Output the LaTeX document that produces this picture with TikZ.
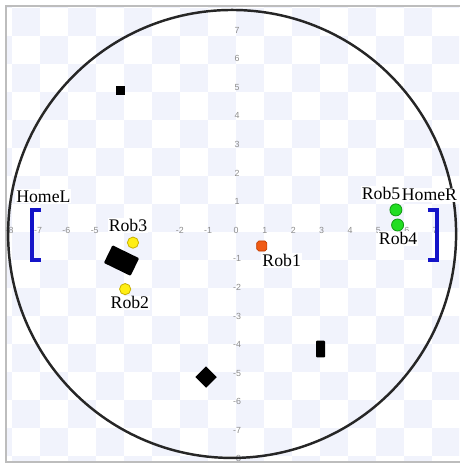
\documentclass[tikz,border=0pt]{standalone}
\usepackage{fontspec}
\usepackage{tikz}
\setmainfont{Liberation Serif}
\newfontfamily\axisfont{Liberation Sans}
\definecolor{ccChecker}{HTML}{F1F3FC}
\definecolor{ccFrame}{HTML}{BDBDBD}
\definecolor{ccHome}{HTML}{1414C8}
\definecolor{ccYellow}{HTML}{FFEE14}
\definecolor{ccYellowD}{HTML}{C8B000}
\definecolor{ccGreen}{HTML}{22DD22}
\definecolor{ccGreenD}{HTML}{119911}
\definecolor{ccOrange}{HTML}{F05A14}
\definecolor{ccOrangeD}{HTML}{C03C00}

\begin{document}
\begin{tikzpicture}[x=1cm,y=1cm]
    \tikzstyle{tick}=[text=black!45, font=\axisfont\fontsize{9}{9}\selectfont, inner sep=0pt]
    \tikzstyle{robname}=[font=\fontsize{18}{18}\selectfont, fill=white, inner sep=1pt, anchor=base]
    \tikzstyle{robyellow}=[circle, fill=ccYellow, draw=ccYellowD, line width=0.8pt, minimum size=0.4cm, inner sep=0pt]
    \tikzstyle{robgreen}=[circle, fill=ccGreen, draw=ccGreenD, line width=0.8pt, minimum size=0.43cm, inner sep=0pt]
    \tikzstyle{obstacle}=[fill=black, inner sep=0pt]
    \tikzstyle{home}=[draw=ccHome, line width=4pt, line join=miter]

    \useasboundingbox (-8.43,-8.286) rectangle (7.964,8.286);

    % checker floor
    \begin{scope}
      \clip (-8.21,-8.21) rectangle (7.964,8.07);
      \foreach \i in {-9,...,7} {
        \foreach \j in {-9,...,8} {
          \pgfmathtruncatemacro\s{\i+\j+20}
          \ifodd\s \fill[ccChecker] (\i,\j) rectangle ++(1,1); \fi
        }
      }
    \end{scope}
    \draw[ccFrame, line width=1.5pt] (8.2,8.07) -- (-8.21,8.07) -- (-8.21,-8.21) -- (8.2,-8.21);

    % axis numbers
    \foreach \k in {-8,-7,-6,-5,-2,-1,1,2,...,7}
      \node[tick] (tx\k) at (0.018+1.013*\k,0.04) {\k};
    \foreach \k in {-8,...,-1,1,2,...,7}
      \node[tick] (ty\k) at (0.04,0.064+1.021*\k) {\k};
    \node[tick] (t0) at (0.0,0.04) {0};

    % arena
    \node[circle, draw=black!85, line width=2.5pt, minimum size=16cm, inner sep=0pt] (arena) at (-0.14,-0.07) {};

    % homes
    \draw[home] (-6.96,0.79) -- (-7.29,0.79) -- (-7.29,-1.0) -- (-6.96,-1.0);
    \draw[home] (6.84,0.79) -- (7.18,0.79) -- (7.18,-1.0) -- (6.84,-1.0);
    \coordinate (homeL) at (-7.29,-0.1);
    \coordinate (homeR) at (7.18,-0.1);

    % obstacles
    \node[obstacle, minimum size=0.32cm] (obs1) at (-4.14,5.04) {};
    \node[obstacle, minimum width=1.06cm, minimum height=0.7cm, rounded corners=1pt, rotate=-26] (obs2) at (-4.09,-1.02) {};
    \node[obstacle, minimum size=0.54cm, rotate=45] (obs3) at (-1.07,-5.18) {};
    \node[obstacle, minimum width=0.32cm, minimum height=0.6cm, rounded corners=1pt] (obs4) at (3.02,-4.18) {};

    % names
    \node[robname] (nHomeL) at (-6.88,1.07) {HomeL};
    \node[robname] (nHomeR) at (6.91,1.12) {HomeR};
    \node[robname] (nRob1) at (1.63,-1.24) {Rob1};
    \node[robname] (nRob2) at (-3.79,-2.75) {Rob2};
    \node[robname] (nRob3) at (-3.86,0.01) {Rob3};
    \node[robname] (nRob4) at (5.79,-0.45) {Rob4};
    \node[robname] (nRob5) at (5.18,1.17) {Rob5};

    % robots
    \node[rectangle, rounded corners=2pt, fill=ccOrange, draw=ccOrangeD, line width=0.6pt, minimum size=0.36cm, inner sep=0pt] (rob1) at (0.92,-0.5) {};
    \node[robyellow] (rob2) at (-3.96,-2.04) {};
    \node[robyellow] (rob3) at (-3.68,-0.38) {};
    \node[robgreen] (rob4) at (5.77,0.25) {};
    \node[robgreen] (rob5) at (5.71,0.79) {};
\end{tikzpicture}
\end{document}
